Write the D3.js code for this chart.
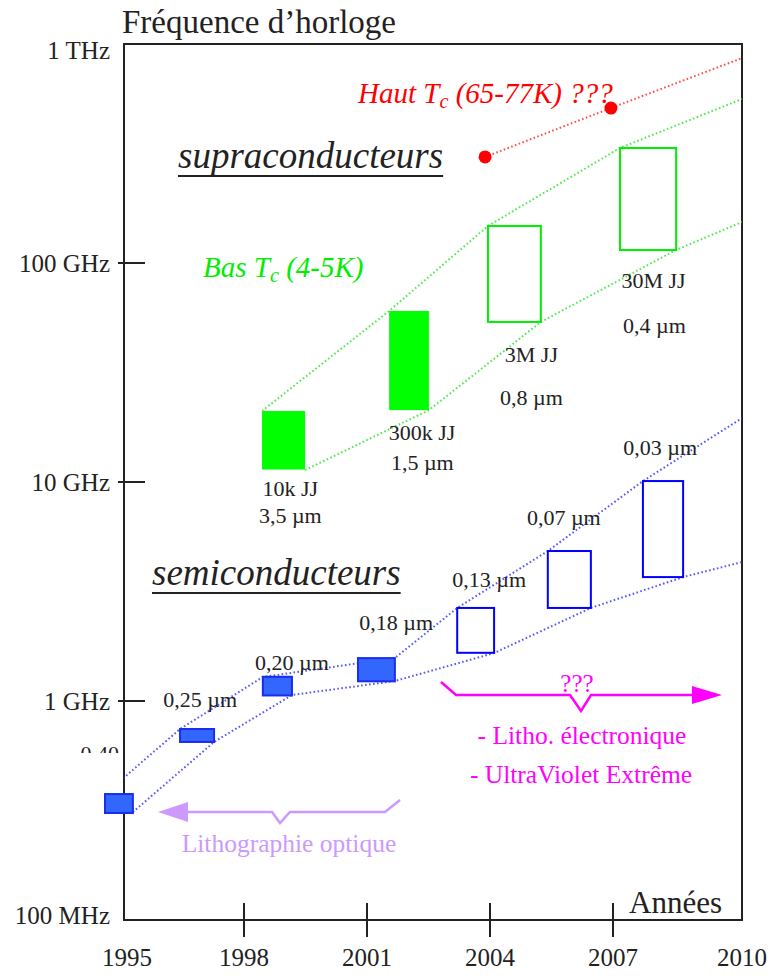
<!DOCTYPE html>
<html><head><meta charset="utf-8">
<script src="https://cdn.jsdelivr.net/npm/d3@7"></script>
<style>
body{margin:0;background:#fff}
svg{display:block}
text{font-family:"Liberation Serif","Times New Roman",serif}
</style>
</head><body>
<svg id="c" width="770" height="979" font-family="Liberation Serif, Times New Roman, serif"></svg>
<script>
// ---------------- DATA ----------------
const yearTicks = [1998, 2001, 2004, 2007];
const yearLabels = [1995, 1998, 2001, 2004, 2007, 2010];
const freqTicks = [1e11, 1e10, 1e9];
const freqLabelValues = [1e12, 1e11, 1e10, 1e9, 1e8];
const freqLabelTexts = ["1 THz", "100 GHz", "10 GHz", "1 GHz", "100 MHz"];

// semiconductor nodes: year span and frequency span (Hz)
const semiNodes  = ["0,40 µm", "0,25 µm", "0,20 µm", "0,18 µm", "0,13 µm", "0,07 µm", "0,03 µm"];
const semiStart  = [1994.61, 1996.44, 1998.46, 2000.78, 2003.20, 2005.41, 2007.73];
const semiEnd    = [1995.29, 1997.27, 1999.17, 2001.68, 2004.10, 2006.46, 2008.71];
const semiLow    = [3.08e8, 6.50e8, 1.06e9, 1.23e9, 1.66e9, 2.66e9, 3.68e9];
const semiHigh   = [3.76e8, 7.45e8, 1.29e9, 1.57e9, 2.66e9, 4.84e9, 1.01e10];
const semiFilled = [true, true, true, true, false, false, false];

// superconductor (low Tc) generations
const jjCounts  = ["10k JJ", "300k JJ", "3M JJ", "30M JJ"];
const jjFeature = ["3,5 µm", "1,5 µm", "0,8 µm", "0,4 µm"];
const supStart  = [1998.44, 2001.54, 2003.95, 2007.17];
const supEnd    = [1999.49, 2002.51, 2005.24, 2008.54];
const supLow    = [1.14e10, 2.13e10, 5.38e10, 1.146e11];
const supHigh   = [2.11e10, 6.04e10, 1.476e11, 3.35e11];
const supFilled = [true, true, false, false];

// trend envelopes (year, Hz)
const semiUpperYears = [1994.61, 1996.44, 1998.46, 2001.68, 2003.20, 2005.41, 2007.73, 2010.15];
const semiUpperFreq  = [3.76e8, 7.45e8, 1.287e9, 1.572e9, 2.66e9, 4.84e9, 1.01e10, 1.96e10];
const semiLowerYears = [1995.29, 1997.27, 1999.17, 2001.68, 2004.10, 2006.46, 2008.71, 2010.15];
const semiLowerFreq  = [3.11e8, 6.50e8, 1.065e9, 1.234e9, 1.656e9, 2.66e9, 3.68e9, 4.31e9];
const supUpperYears  = [1998.44, 2001.54, 2003.95, 2007.17, 2010.15];
const supUpperFreq   = [2.11e10, 6.04e10, 1.476e11, 3.35e11, 5.61e11];
const supLowerYears  = [1999.49, 2002.51, 2005.24, 2008.54, 2010.15];
const supLowerFreq   = [1.134e10, 2.13e10, 5.38e10, 1.147e11, 1.539e11];
const highTcYears    = [2003.88, 2006.95, 2010.15];
const highTcFreq     = [3.05e11, 5.10e11, 8.63e11];
const highTcPoints   = [0, 1]; // indices with a dot

// label anchors in data units (layout)
const semiLabelYear = [1994.91, 1996.93, 1999.17, 2001.71, 2003.98, 2005.80, 2008.15];
const semiLabelFreq = [5.32e8, 9.39e8, 1.385e9, 2.11e9, 3.32e9, 6.36e9, 1.33e10];
const jjLabelYear   = [1999.13, 2002.34, 2005.01, 2007.99];
const jjLabelFreq   = [8.63e9, 1.556e10, 3.53e10, 7.69e10];
const umLabelYear   = [1999.13, 2002.35, 2005.01, 2008.01];
const umLabelFreq   = [6.50e9, 1.135e10, 2.25e10, 4.79e10];

// ---------------- CHART ----------------
const svg = d3.select("#c");
const L = 124, R = 742, T = 44, B = 920;
const x = d3.scaleLinear().domain([1995, 2010]).range([121, 736]);
const y = d3.scaleLog().domain([1e8, 1e12]).range([B, T]);
const ink = "#222";

svg.append("defs").append("clipPath").attr("id","plotclip")
  .append("rect").attr("x", L).attr("y", T).attr("width", R - L).attr("height", B - T);
svg.select("defs").append("clipPath").attr("id","hideclip")
  .append("rect").attr("x", 0).attr("y", 0).attr("width", L - 4).attr("height", 753);

// title
svg.append("text").attr("x", 122).attr("y", 33).attr("font-size", 33).attr("fill", ink)
  .text("Fréquence d’horloge");

// frame
svg.append("rect").attr("x", L).attr("y", T).attr("width", R - L).attr("height", B - T)
  .attr("fill", "none").attr("stroke", ink).attr("stroke-width", 2);

// y ticks
svg.selectAll(".yt").data(freqTicks).join("line")
  .attr("x1", L - 6).attr("x2", L + 21)
  .attr("y1", d => y(d)).attr("y2", d => y(d))
  .attr("stroke", ink).attr("stroke-width", 2);
svg.selectAll(".yl").data(freqLabelValues).join("text")
  .attr("x", 110).attr("y", d => Math.min(Math.max(y(d), T + 6), B - 5))
  .attr("dy", "0.35em").attr("text-anchor", "end").attr("font-size", 25).attr("fill", ink)
  .text((d, i) => freqLabelTexts[i]);

// x ticks
svg.selectAll(".xt").data(yearTicks).join("line")
  .attr("x1", d => x(d)).attr("x2", d => x(d))
  .attr("y1", B - 17).attr("y2", B + 17)
  .attr("stroke", ink).attr("stroke-width", 2);
svg.selectAll(".xl").data(yearLabels).join("text")
  .attr("x", d => x(d) + (d === 1995 ? 6 : d === 2010 ? 6 : 0)).attr("y", 966)
  .attr("text-anchor", "middle").attr("font-size", 25).attr("fill", ink)
  .text(d => d);

svg.append("text").attr("x", 722).attr("y", 913).attr("text-anchor", "end")
  .attr("font-size", 31).attr("fill", ink).text("Années");

// dotted trend lines
const line = d3.line().x(d => x(d[0])).y(d => y(d[1]));
const zip = (a, b) => a.map((v, i) => [v, b[i]]);
const g = svg.append("g").attr("clip-path", "url(#plotclip)");
function dotted(pts, col) {
  g.append("path").attr("d", line(pts)).attr("fill", "none")
    .attr("stroke", col).attr("stroke-width", 2).attr("stroke-dasharray", "1.6 2.4")
    .attr("opacity", 0.85);
}
dotted(zip(semiUpperYears, semiUpperFreq), "#3a3aff");
dotted(zip(semiLowerYears, semiLowerFreq), "#3a3aff");
dotted(zip(supUpperYears, supUpperFreq), "#2ee82e");
dotted(zip(supLowerYears, supLowerFreq), "#2ee82e");
dotted(zip(highTcYears, highTcFreq), "#ff3030");

svg.selectAll(".htc").data(highTcPoints).join("circle")
  .attr("cx", i => x(highTcYears[i])).attr("cy", i => y(highTcFreq[i]))
  .attr("r", 6.5).attr("fill", "#ff0000");

// semiconductor boxes
svg.selectAll(".sb").data(semiNodes).join("rect")
  .attr("x", (d, i) => x(semiStart[i]))
  .attr("width", (d, i) => x(semiEnd[i]) - x(semiStart[i]))
  .attr("y", (d, i) => y(semiHigh[i]))
  .attr("height", (d, i) => y(semiLow[i]) - y(semiHigh[i]))
  .attr("fill", (d, i) => semiFilled[i] ? "#3366ff" : "none")
  .attr("stroke", (d, i) => semiFilled[i] ? "#1a2cf0" : "#0000ff")
  .attr("stroke-width", 2);

// superconductor boxes
svg.selectAll(".jb").data(jjCounts).join("rect")
  .attr("x", (d, i) => x(supStart[i]))
  .attr("width", (d, i) => x(supEnd[i]) - x(supStart[i]))
  .attr("y", (d, i) => y(supHigh[i]))
  .attr("height", (d, i) => y(supLow[i]) - y(supHigh[i]))
  .attr("fill", (d, i) => supFilled[i] ? "#00ff00" : "none")
  .attr("stroke", "#00ee00")
  .attr("stroke-width", (d, i) => supFilled[i] ? 0 : 2);

// semiconductor labels
svg.selectAll(".sl").data(semiNodes).join("text")
  .attr("x", (d, i) => x(semiLabelYear[i])).attr("y", (d, i) => y(semiLabelFreq[i]))
  .attr("text-anchor", "middle").attr("font-size", 22).attr("fill", ink)
  .attr("clip-path", (d, i) => i === 0 ? "url(#hideclip)" : null)
  .text(d => d);

// superconductor labels
svg.selectAll(".jl").data(jjCounts).join("text")
  .attr("x", (d, i) => x(jjLabelYear[i])).attr("y", (d, i) => y(jjLabelFreq[i]))
  .attr("text-anchor", "middle").attr("font-size", 22).attr("fill", ink).text(d => d);
svg.selectAll(".ul").data(jjFeature).join("text")
  .attr("x", (d, i) => x(umLabelYear[i])).attr("y", (d, i) => y(umLabelFreq[i]))
  .attr("text-anchor", "middle").attr("font-size", 22).attr("fill", ink).text(d => d);

// category titles
function underlined(tx, x0, base, size) {
  const t = svg.append("text").attr("x", x0).attr("y", base).attr("font-size", size)
    .attr("font-style", "italic").attr("fill", ink).text(tx);
  const w = t.node().getComputedTextLength();
  svg.append("line").attr("x1", x0).attr("x2", x0 + w).attr("y1", base + 8).attr("y2", base + 8)
    .attr("stroke", ink).attr("stroke-width", 2);
}
underlined("supraconducteurs", 178, 168, 37);
underlined("semiconducteurs", 152, 585, 37);

function tc(pre, post, x0, base, size, col) {
  const t = svg.append("text").attr("x", x0).attr("y", base).attr("font-size", size)
    .attr("font-style", "italic").attr("fill", col);
  t.append("tspan").text(pre);
  t.append("tspan").attr("font-size", size * 0.7).attr("dy", 5).text("c");
  t.append("tspan").attr("dy", -5).text(post);
}
tc("Haut T", " (65-77K) ???", 358, 103, 29, "#ff0000");
tc("Bas T", " (4-5K)", 203, 277, 29, "#00ee00");

// future arrow (magenta)
const mag = "#ff00ff";
svg.append("path")
  .attr("d", "M441,682 L456,695 L570,695 L581,711 L591,695 L695,695")
  .attr("fill", "none").attr("stroke", mag).attr("stroke-width", 2.5);
svg.append("path").attr("d", "M722,695 L692,686 L692,704 Z").attr("fill", mag);
svg.append("text").attr("x", 577).attr("y", 692).attr("text-anchor", "middle")
  .attr("font-size", 25).attr("fill", mag).text("???");
svg.append("text").attr("x", 582).attr("y", 744).attr("text-anchor", "middle")
  .attr("font-size", 25.5).attr("fill", mag).text("- Litho. électronique");
svg.append("text").attr("x", 581).attr("y", 783).attr("text-anchor", "middle")
  .attr("font-size", 25.5).attr("fill", mag).text("- UltraViolet Extrême");

// past arrow (lavender)
const lav = "#cc99ff";
svg.append("path")
  .attr("d", "M187,812 L272,812 L280,823 L290,812 L385,812 L400,800")
  .attr("fill", "none").attr("stroke", lav).attr("stroke-width", 2.5);
svg.append("path").attr("d", "M158,812 L188,802 L188,822 Z").attr("fill", lav);
svg.append("text").attr("x", 289).attr("y", 852).attr("text-anchor", "middle")
  .attr("font-size", 25.5).attr("fill", lav).text("Lithographie optique");
</script>
</body></html>
